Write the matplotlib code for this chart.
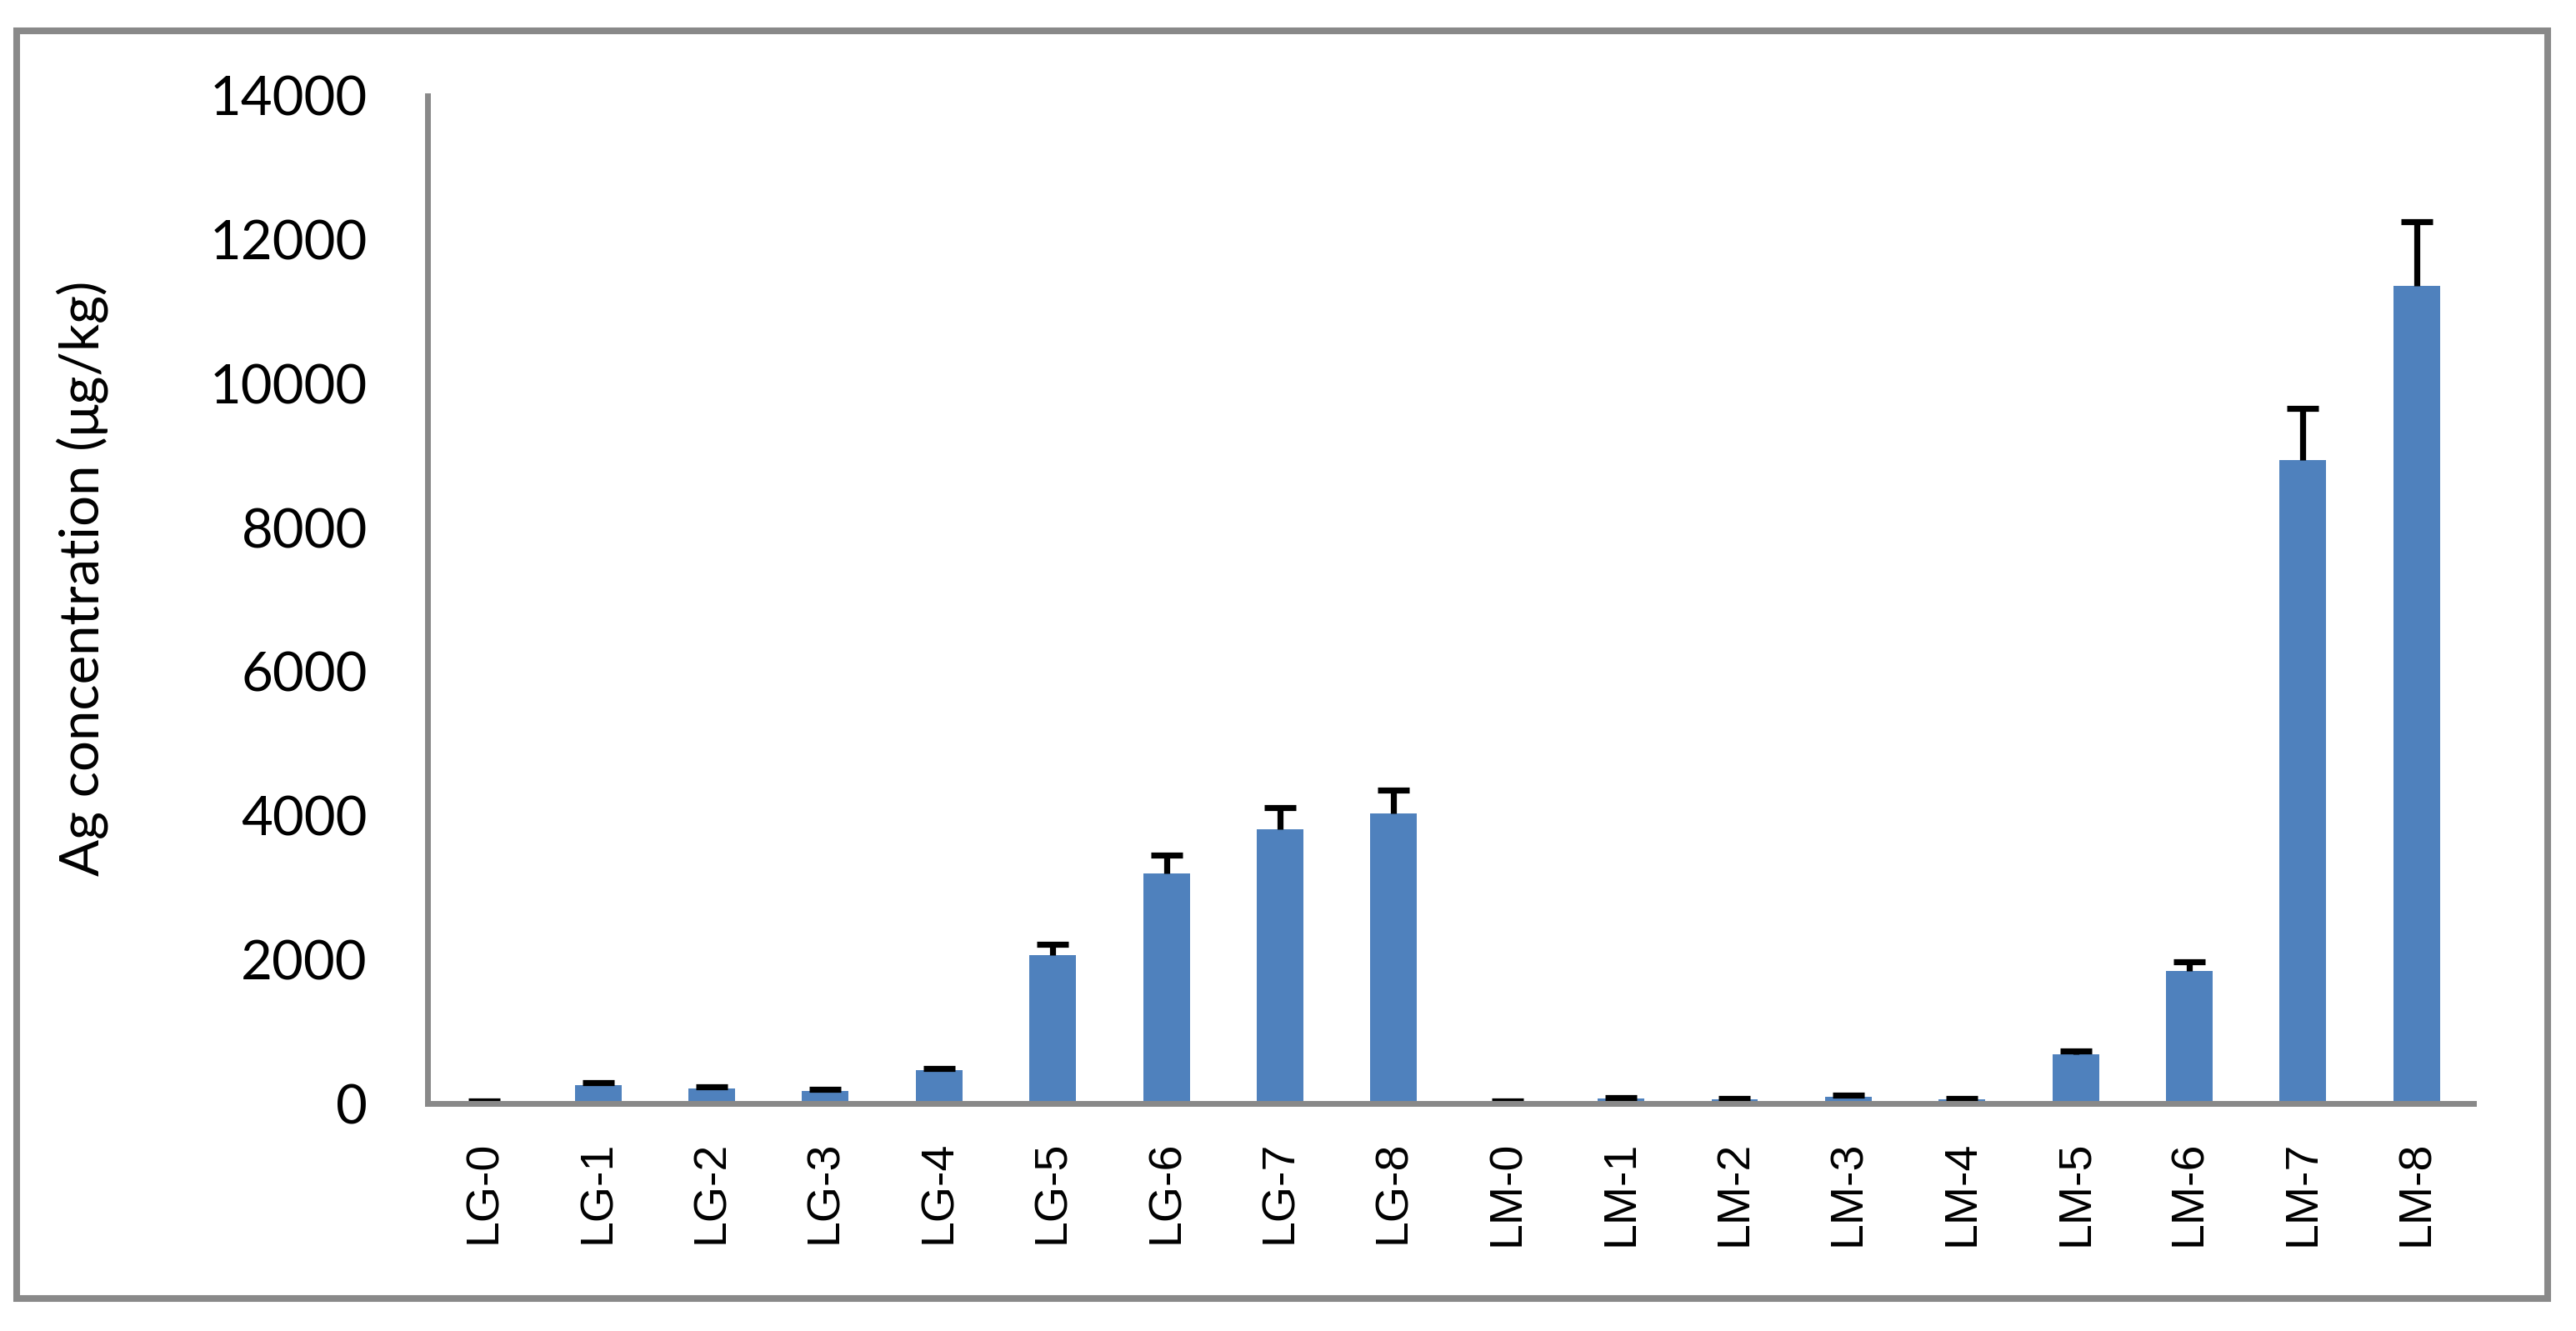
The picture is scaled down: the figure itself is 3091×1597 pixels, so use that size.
import matplotlib.pyplot as plt
from matplotlib.patches import Rectangle
import numpy as np

# data
categories = ['LG-0', 'LG-1', 'LG-2', 'LG-3', 'LG-4', 'LG-5', 'LG-6', 'LG-7', 'LG-8',
              'LM-0', 'LM-1', 'LM-2', 'LM-3', 'LM-4', 'LM-5', 'LM-6', 'LM-7', 'LM-8']
ag_conc = [12, 255, 208, 175, 462, 2060, 3202, 3808, 4032,
           15, 65, 55, 92, 55, 684, 1842, 8939, 11358]
ag_err = [20, 30, 20, 25, 25, 155, 252, 303, 320,
          20, 20, 15, 20, 15, 50, 133, 715, 898]
yticks = [0, 2000, 4000, 6000, 8000, 10000, 12000, 14000]

bar_color = '#4F81BD'
axis_gray = '#898989'

fig = plt.figure(figsize=(15.455, 7.985), dpi=200)
ax = fig.add_axes([0.166, 0.1709, 0.9602 - 0.166, 0.928 - 0.1709])

x = np.arange(len(categories))
ax.bar(x, ag_conc, width=0.41, color=bar_color, zorder=2)
# only the upper error bar, with a single cap on top
_, caps, _ = ax.errorbar(x, ag_conc, yerr=[np.zeros(len(ag_err)), ag_err], fmt='none',
                         ecolor='black', elinewidth=2.6, capsize=7, capthick=2.6, zorder=3)
caps[0].set_visible(False)

ax.set_xlim(-0.5, len(categories) - 0.5)
ax.set_ylim(0, 14000)
ax.set_yticks(yticks)
ax.set_yticklabels([str(t) for t in yticks], family='Lato', fontsize=23.5)
ax.set_xticks(x)
ax.set_xticklabels(categories, rotation=90, family='Liberation Sans', fontsize=20)
ax.tick_params(axis='y', length=0, pad=26)
ax.tick_params(axis='x', length=0, pad=16)

for s in ['top', 'right']:
    ax.spines[s].set_visible(False)
for s in ['left', 'bottom']:
    ax.spines[s].set_color(axis_gray)
    ax.spines[s].set_linewidth(2.5)
    ax.spines[s].set_zorder(4)

fig.text(0.032, 0.5654, 'Ag concentration (μg/kg)', rotation=90, ha='center', va='center',
         family='Lato', fontsize=23.5)

# outer chart border
fig.patches.append(Rectangle((0.0065, 0.0244), 0.9825, 0.9524, transform=fig.transFigure,
                             fill=False, edgecolor=axis_gray, linewidth=2.9))

fig.savefig('out.png', dpi=200)
